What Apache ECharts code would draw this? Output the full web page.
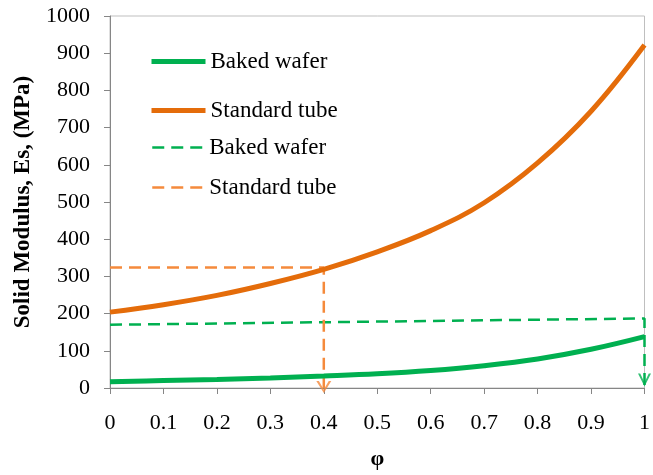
<!DOCTYPE html>
<html><head><meta charset="utf-8">
<script src="https://cdn.jsdelivr.net/npm/echarts@6/dist/echarts.min.js"></script>
<style>html,body{margin:0;padding:0;background:#fff}#c{width:653px;height:475px}</style>
</head><body><div id="c"></div>
<script>
const phi = [0, 0.1, 0.2, 0.3, 0.4, 0.5, 0.6, 0.7, 0.8, 0.9, 1.0];
const bakedWafer = [17, 20, 23, 27, 32, 38, 47, 60, 78, 104, 138];
const standardTube = [204, 224, 249, 281, 319, 366, 423, 498, 605, 744, 922];
const bakedWaferGuide = [[0, 170], [1, 187], [1, 0]];
const standardTubeGuide = [[0, 324], [0.4, 324], [0.4, 0]];
const arrowTips = { baked: [[1, 0]], tube: [[0.4, 0]] };

const FONT = 'Liberation Serif';
const GREEN = '#00B050', ORANGE = '#E46C0A', ORANGE_D = '#F58A3C';
const arrowPath = 'path://M0,0 L2.4,0 L7,7 L11.6,0 L14,0 L7,10 Z';

const chart = echarts.init(document.getElementById('c'), null, {renderer: 'canvas'});
chart.setOption({
  animation: false,
  grid: {left: 110, right: 4, top: 16, bottom: 82, show: true, borderColor: '#BFBFBF', borderWidth: 1},
  legend: [
    {orient: 'vertical', left: 149, top: 50, padding: 0, itemWidth: 54, itemHeight: 14, itemGap: 26,
     textStyle: {fontFamily: FONT, fontSize: 23, color: '#000'},
     lineStyle: {width: 5}, itemStyle: {opacity: 0},
     data: ['Baked wafer', 'Standard tube'], formatter: n => n.split('|')[0]},
    {orient: 'vertical', left: 151, top: 136, padding: 0, itemWidth: 52, itemHeight: 14, itemGap: 17,
     textStyle: {fontFamily: FONT, fontSize: 23, color: '#000'},
     lineStyle: {width: 2.5}, itemStyle: {opacity: 0},
     data: ['Baked wafer|d', 'Standard tube|d'], formatter: n => n.split('|')[0]}
  ],
  xAxis: {
    type: 'value', min: 0, max: 1, interval: 0.1,
    name: 'φ', nameLocation: 'middle', nameGap: 60,
    nameTextStyle: {fontFamily: FONT, fontSize: 22, fontWeight: 'bold', color: '#000'},
    axisLine: {lineStyle: {color: '#868686', width: 1}},
    axisTick: {show: true, length: 6, lineStyle: {color: '#868686'}},
    axisLabel: {fontFamily: FONT, fontSize: 22, color: '#000', margin: 24},
    splitLine: {show: false}
  },
  yAxis: {
    type: 'value', min: 0, max: 1000, interval: 100,
    name: 'Solid Modulus, Es, (MPa)', nameLocation: 'middle', nameGap: 75,
    nameTextStyle: {fontFamily: FONT, fontSize: 23, fontWeight: 'bold', color: '#000'},
    axisLine: {show: true, lineStyle: {color: '#868686', width: 1}},
    axisTick: {show: true, length: 6, lineStyle: {color: '#868686'}},
    axisLabel: {fontFamily: FONT, fontSize: 22, color: '#000', margin: 20, formatter: v => String(v)},
    splitLine: {show: false}
  },
  series: [
    {name: 'Baked wafer', type: 'line', smooth: 0.4, symbol: 'none', z: 3,
     data: phi.map((x, i) => [x, bakedWafer[i]]), lineStyle: {color: GREEN, width: 5}, itemStyle: {color: GREEN}},
    {name: 'Standard tube', type: 'line', smooth: 0.4, symbol: 'none', z: 3,
     data: phi.map((x, i) => [x, standardTube[i]]), lineStyle: {color: ORANGE, width: 5}, itemStyle: {color: ORANGE}},
    {name: 'Baked wafer|d', type: 'line', symbol: 'none', clip: false, z: 2,
     data: bakedWaferGuide, lineStyle: {color: GREEN, width: 2.5, type: [12, 7]}, itemStyle: {color: GREEN}},
    {name: 'Standard tube|d', type: 'line', symbol: 'none', clip: false, z: 2,
     data: standardTubeGuide, lineStyle: {color: ORANGE_D, width: 2.5, type: [12, 7]}, itemStyle: {color: ORANGE_D}},
    {type: 'scatter', data: arrowTips.baked, symbol: arrowPath, symbolSize: [13, 13], symbolOffset: [0, -8],
     clip: false, itemStyle: {color: GREEN}, z: 4, silent: true},
    {type: 'scatter', data: arrowTips.tube, symbol: arrowPath, symbolSize: [15, 12], symbolOffset: [0, -1],
     clip: false, itemStyle: {color: ORANGE_D}, z: 4, silent: true}
  ]
});
</script></body></html>
